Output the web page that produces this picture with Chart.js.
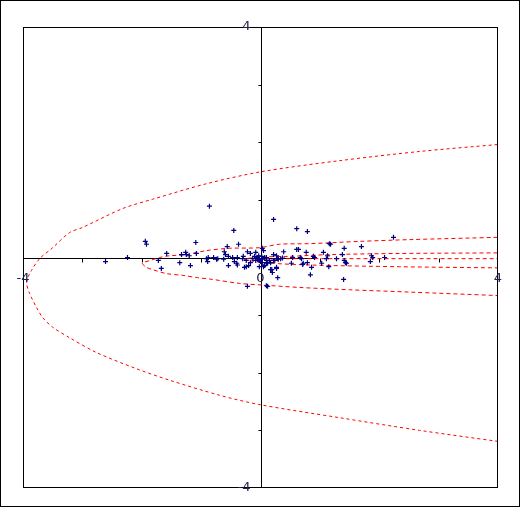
<!DOCTYPE html>
<html>
<head>
<meta charset="utf-8">
<script src="https://cdn.jsdelivr.net/npm/chart.js@4"></script>
<style>
  html, body { margin: 0; padding: 0; background: #fff; }
  canvas { display: block; }
</style>
</head>
<body>
<canvas id="chart" width="520" height="507"></canvas>
<script>
// axis range and the tick labels that are printed
const axisMin = -4;
const axisMax = 4;
const xLabelValues = [-4, 0, 4];
const yLabelValues = [4, -4];

// scatter points
const pointsX = [-2.61, -2.24, -1.94, -1.92, -1.72, -1.67, -1.58, -1.36, -1.33, -1.26, -1.25, -1.20, -1.18, -1.09, -1.08,
  -0.86, -0.91, -0.89, -0.79, -0.74, -0.62, -0.61, -0.59, -0.56, -0.54, -0.54, -0.47, -0.45, -0.44, -0.40, -0.39,
  -0.37, -0.30, -0.29, -0.27, -0.24, -0.22, -0.24, -0.22, -0.20, -0.17, -0.17, -0.13, -0.08, -0.05, -0.02, 0.02,
  0.03, 0.05, -0.02, 0.05, 0.10, 0.12, 0.19, 0.22, 0.27, 0.27, 0.29, 0.17, 0.24, 0.29, 0.22, 0.61, 0.79, 0.39,
  0.61, 0.64, 0.77, 1.06, 1.16, 1.18, 1.41, 1.70, 2.24, 1.38, 1.28, 1.13, 1.11, 0.89, 0.91, 0.67, 0.54, 0.34,
  0.30, 0.37, 0.22, 0.15, 0.10, 0.10, 0.03, 0.12, 0.07, 0.17, 0.20, 0.27, 0.10, 0.52, 0.72, 0.79, 0.86, 1.03,
  1.15, 0.84, 1.40, 1.43, 1.45, 1.41, 1.87, 1.89, 1.85, 2.09, -0.05, -0.03, 0.02, 0.00, 0.03, -0.08, 0.07, 0.69,
  0.71, -0.72, -0.39, -0.88, -0.10];
const pointsY = [-0.07, 0.00, 0.28, 0.23, -0.05, -0.19, 0.07, -0.09, 0.05, 0.09, 0.05, 0.03, -0.14, 0.26, 0.07,
  0.89, -0.02, -0.07, 0.00, -0.03, -0.03, 0.10, 0.05, 0.19, 0.02, -0.14, 0.00, 0.47, -0.07, -0.10, -0.13,
  0.23, -0.02, 0.02, -0.17, -0.16, 0.10, -0.05, -0.50, -0.14, 0.07, -0.09, -0.02, 0.09, 0.00, -0.05, -0.02,
  0.16, 0.12, -0.16, -0.16, -0.05, -0.50, -0.21, 0.05, 0.03, -0.17, -0.35, -0.09, -0.05, -0.02, 0.66, 0.50, 0.45, 0.10,
  0.14, 0.14, 0.09, 0.09, 0.24, 0.23, 0.16, 0.19, 0.35, 0.05, -0.02, 0.03, -0.02, 0.02, 0.00, 0.00, 0.00, -0.02,
  -0.03, -0.01, -0.05, -0.05, 0.00, -0.09, -0.03, -0.10, -0.14, -0.21, -0.26, -0.19, -0.49, -0.10, -0.10, -0.09, -0.17, -0.10,
  -0.16, -0.30, -0.38, -0.09, -0.10, -0.05, 0.03, 0.00, -0.07, 0.00, -0.03, 0.03, 0.02, -0.07, -0.09, -0.05, 0.00, -0.02,
  -0.12, -0.02, 0.00, 0.00, 0.02];

// outer band (upper branch -> vertex -> lower branch)
const outerX = [3.99, 2.68, 1.33, 0.02, -0.91, -1.82, -2.32, -3.00, -3.22, -3.50, -3.72, -3.86, -3.94,
  -3.89, -3.77, -3.67, -3.50, -3.22, -2.76, -2.09, -1.53, -0.69, -0.03, 1.33, 2.68, 3.99];
const outerY = [1.96, 1.84, 1.68, 1.49, 1.28, 1.01, 0.85, 0.52, 0.43, 0.17, -0.02, -0.23, -0.42,
  -0.62, -0.87, -1.04, -1.21, -1.39, -1.65, -1.93, -2.13, -2.39, -2.55, -2.78, -3.00, -3.19];

// inner band
const innerX = [3.99, 2.51, 1.67, 0.83, 0.32, -0.02, -0.52, -0.91, -1.25, -1.53, -1.70, -1.85, -1.99,
  -1.92, -1.82, -1.58, -1.31, -1.06, -0.81, -0.35, 0.07, 0.66, 1.50, 2.51, 3.99];
const innerY = [0.35, 0.31, 0.28, 0.24, 0.23, 0.17, 0.16, 0.12, 0.05, 0.03, 0.00, -0.05, -0.10,
  -0.17, -0.21, -0.28, -0.31, -0.35, -0.38, -0.45, -0.48, -0.52, -0.56, -0.60, -0.66];

// narrow band
const midX = [3.99, 2.34, 1.16, 0.49, 0.07, -0.27, 0.07, 0.83, 2.34, 3.99];
const midY = [0.08, 0.07, 0.05, 0.02, 0.01, -0.03, -0.09, -0.13, -0.16, -0.18];

// fitted line
const centerX = [-0.27, 3.99];
const centerY = [-0.02, -0.02];

const toXY = (xs, ys) => xs.map((x, i) => ({ x: x, y: ys[i] }));

function curve(xs, ys, dash) {
    return {
        data: toXY(xs, ys),
        showLine: true,
        borderColor: '#ff0000',
        borderWidth: 1,
        borderDash: dash,
        pointRadius: 0,
        tension: 0.3,
        fill: false
    };
}

// axes through the origin, ticks, labels and the two frames
const crossAxes = {
    id: 'crossAxes',
    beforeDatasetsDraw(chart) {
        const ctx = chart.ctx;
        const xs = chart.scales.x, ys = chart.scales.y;
        const ox = Math.round(xs.getPixelForValue(0)) + 0.5;
        const oy = Math.round(ys.getPixelForValue(0)) + 0.5;
        ctx.save();
        ctx.strokeStyle = '#000';
        ctx.lineWidth = 1;
        ctx.beginPath();
        ctx.moveTo(ox, chart.chartArea.top);
        ctx.lineTo(ox, chart.chartArea.bottom);
        ctx.moveTo(chart.chartArea.left, oy);
        ctx.lineTo(xs.getPixelForValue(0.92), oy);
        for (let v = axisMin + 1; v < axisMax; v++) {
            if (v === 0) continue;
            const px = Math.round(xs.getPixelForValue(v)) + 0.5;
            ctx.moveTo(px, oy);
            ctx.lineTo(px, oy + 4);
            const py = Math.round(ys.getPixelForValue(v)) + 0.5;
            ctx.moveTo(ox - 3, py);
            ctx.lineTo(ox, py);
        }
        ctx.stroke();
        ctx.restore();
    },
    afterDraw(chart) {
        const ctx = chart.ctx;
        const a = chart.chartArea;
        const xs = chart.scales.x, ys = chart.scales.y;
        const ox = xs.getPixelForValue(0);
        const oy = ys.getPixelForValue(0);
        ctx.save();
        ctx.strokeStyle = '#000';
        ctx.lineWidth = 1;
        ctx.strokeRect(0.5, 0.5, chart.width - 1, chart.height - 1);
        ctx.strokeRect(a.left + 0.5, a.top + 0.5, a.right - a.left - 1, a.bottom - a.top - 1);
        ctx.fillStyle = '#202050';
        ctx.font = '13px "DejaVu Sans", sans-serif';
        ctx.textBaseline = 'middle';
        ctx.textAlign = 'center';
        xLabelValues.forEach(v => {
            ctx.fillText(String(v), xs.getPixelForValue(v), oy + 21);
        });
        ctx.textAlign = 'right';
        yLabelValues.forEach(v => {
            ctx.fillText(String(v), ox - 10, ys.getPixelForValue(v));
        });
        ctx.restore();
    }
};

new Chart(document.getElementById('chart'), {
    type: 'scatter',
    data: {
        datasets: [
            {
                data: toXY(pointsX, pointsY),
                pointStyle: 'cross',
                pointRadius: 2.5,
                borderWidth: 1.2,
                borderColor: '#000080',
                backgroundColor: '#000080'
            },
            curve(centerX, centerY, [4, 3]),
            curve(midX, midY, [4, 3]),
            curve(innerX, innerY, [4, 3]),
            curve(outerX, outerY, [3, 3])
        ]
    },
    options: {
        responsive: false,
        animation: false,
        layout: { padding: { left: 23, top: 27, right: 22, bottom: 19 } },
        plugins: { legend: { display: false }, tooltip: { enabled: false } },
        scales: {
            x: { type: 'linear', min: axisMin, max: axisMax, display: false },
            y: { type: 'linear', min: axisMin, max: axisMax, display: false }
        }
    },
    plugins: [crossAxes]
});
</script>
</body>
</html>
